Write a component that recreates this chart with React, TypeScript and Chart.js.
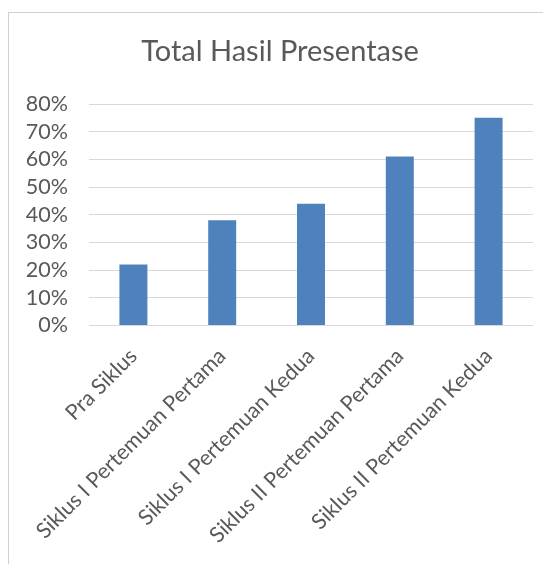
import React, { useEffect, useRef } from "react";
import { Chart, registerables } from "chart.js";

Chart.register(...registerables);

const categories = [
  "Pra Siklus",
  "Siklus I Pertemuan Pertama",
  "Siklus I Pertemuan Kedua",
  "Siklus II Pertemuan Pertama",
  "Siklus II Pertemuan Kedua",
];
const values = [22, 38, 44, 61, 75];
const yMin = 0;
const yMax = 80;
const yStep = 10;
const titleText = "Total Hasil Presentase";

const FONT = "Lato";
const TEXT = "#595959";

export default function App() {
  const ref = useRef<HTMLCanvasElement | null>(null);
  useEffect(() => {
    if (!ref.current) return;
    const chart = new Chart(ref.current, {
      type: "bar",
      data: {
        labels: categories,
        datasets: [
          {
            data: values,
            backgroundColor: "#4F81BD",
            borderWidth: 0,
            barPercentage: 0.315,
            categoryPercentage: 1,
          },
        ],
      },
      options: {
        animation: false,
        responsive: false,
        devicePixelRatio: 1,
        layout: { padding: { left: 0, right: 18, top: 0, bottom: 0 } },
        plugins: {
          legend: { display: false },
          tooltip: { enabled: false },
          title: {
            display: true,
            text: titleText,
            color: TEXT,
            font: { family: FONT, size: 29, weight: "normal" },
            padding: { top: 21, bottom: 35.2 },
          },
        },
        scales: {
          x: {
            grid: { display: false, drawTicks: false },
            border: { display: false },
            ticks: {
              color: TEXT,
              font: { family: FONT, size: 21.5 },
              maxRotation: 45,
              minRotation: 45,
              padding: 18,
              autoSkip: false,
            },
            afterFit: (s: any) => {
              s.height = 247.5;
            },
          },
          y: {
            min: yMin,
            max: yMax,
            grid: { color: "#D9D9D9", drawTicks: false, lineWidth: 1 },
            border: { display: false },
            ticks: {
              stepSize: yStep,
              autoSkip: false,
              color: TEXT,
              font: { family: FONT, size: 21.5, lineHeight: 1 },
              padding: 21,
              callback: (v: any) => v + "%",
            },
            afterFit: (s: any) => {
              s.width = 80;
            },
          },
          yRight: {
            position: "right",
            min: yMin,
            max: yMax,
            grid: { display: false, drawTicks: false },
            border: { display: false },
            ticks: { display: false },
            afterFit: (s: any) => {
              s.width = 18;
            },
          },
        },
      },
    });
    return () => chart.destroy();
  }, []);
  return (
    <div
      style={{
        marginTop: 4,
        width: 600,
        height: 600,
        border: "1px solid #D0D0D0",
        boxSizing: "border-box",
      }}
    >
      <canvas ref={ref} width={560} height={560} style={{ display: "block" }} />
    </div>
  );
}
